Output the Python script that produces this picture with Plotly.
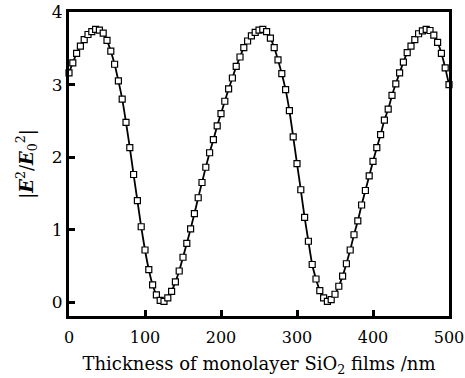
import plotly.graph_objects as go

thickness_nm = list(range(0, 505, 5))
intensity = [
    3.16, 3.30, 3.43, 3.53, 3.62, 3.69, 3.73, 3.76, 3.75, 3.71,
    3.61, 3.46, 3.28, 3.05, 2.80, 2.48, 2.13, 1.76, 1.40, 1.04,
    0.72, 0.45, 0.24, 0.10, 0.025, 0.012, 0.06, 0.15, 0.28, 0.43,
    0.62, 0.81, 1.01, 1.22, 1.44, 1.65, 1.86, 2.06, 2.24, 2.43,
    2.60, 2.77, 2.94, 3.09, 3.25, 3.38, 3.51, 3.60, 3.67, 3.72,
    3.75, 3.76, 3.73, 3.64, 3.51, 3.34, 3.15, 2.93, 2.64, 2.28,
    1.91, 1.55, 1.17, 0.84, 0.52, 0.32, 0.16, 0.06, 0.012, 0.035,
    0.11, 0.22, 0.36, 0.53, 0.72, 0.93, 1.12, 1.34, 1.54, 1.74,
    1.94, 2.13, 2.31, 2.51, 2.66, 2.85, 3.01, 3.16, 3.31, 3.44,
    3.53, 3.62, 3.70, 3.74, 3.76, 3.745, 3.68, 3.58, 3.43, 3.23,
    3.00,
]
x_ticks = [0, 100, 200, 300, 400, 500]
y_ticks = [0, 1, 2, 3, 4]

FONT = "DejaVu Serif"

fig = go.Figure()
fig.add_trace(go.Scatter(
    x=thickness_nm, y=intensity, mode="lines+markers",
    line=dict(color="black", width=1.8, shape="spline", smoothing=0.6),
    marker=dict(symbol="square", size=6, color="white",
                line=dict(color="black", width=1.2)),
    showlegend=False, cliponaxis=False,
))

fig.update_layout(
    width=465, height=378,
    margin=dict(l=69, r=16, t=12, b=62),
    paper_bgcolor="white", plot_bgcolor="white",
    font=dict(family=FONT, color="black", size=17),
)
fig.update_xaxes(
    range=[0, 500], tickvals=x_ticks, ticktext=[str(v) for v in x_ticks],
    showgrid=False, zeroline=False, automargin=False,
    showline=True, linecolor="black", linewidth=3, mirror=True,
    ticks="inside", ticklen=6, tickwidth=2.5, tickcolor="black",
    tickfont=dict(size=16, family=FONT), ticklabelstandoff=5,
    title=dict(text="Thickness of monolayer SiO<sub>2</sub> films /nm",
               font=dict(size=18, family=FONT), standoff=12),
)
fig.update_yaxes(
    range=[-0.19, 4.0], tickvals=y_ticks, ticktext=[str(v) for v in y_ticks],
    showgrid=False, zeroline=False, automargin=False,
    showline=True, linecolor="black", linewidth=3, mirror=True,
    ticks="inside", ticklen=6, tickwidth=2.5, tickcolor="black",
    tickfont=dict(size=17, family=FONT),
    title=dict(text="|<b><i>E</i></b><sup>2</sup>/<b><i>E</i></b><sub>0</sub><sup>2</sup>|",
               font=dict(size=18, family=FONT), standoff=14),
)

fig.write_html("out.html")
